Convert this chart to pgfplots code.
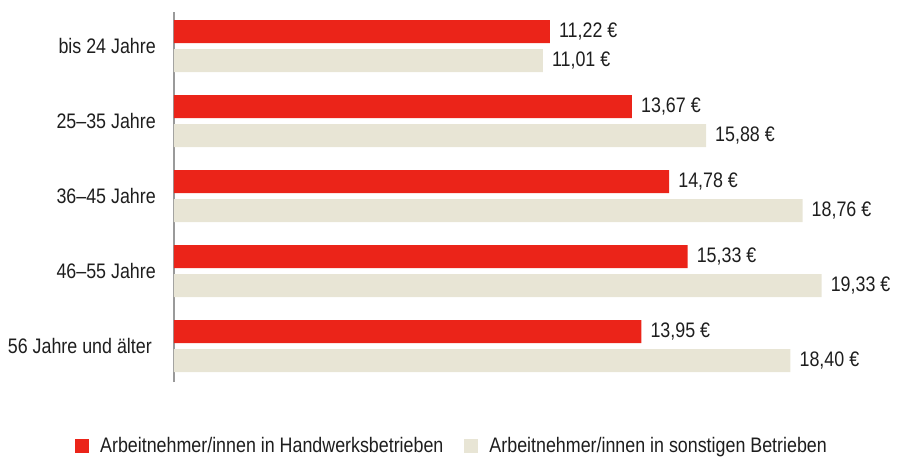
\documentclass[border=0pt]{standalone}
\usepackage{fontspec}
\setmainfont{Liberation Sans}[FakeStretch=0.85]
\usepackage{pgfplots}
\pgfplotsset{compat=1.18}
\definecolor{hwred}{HTML}{EB2419}
\definecolor{otherbeige}{HTML}{E8E5D5}
\definecolor{axisgray}{HTML}{9A9A9A}
\definecolor{txt}{HTML}{1E1E1E}

\begin{document}
\begin{tikzpicture}[font=\fontsize{21}{24}\selectfont]
\useasboundingbox (-174pt,-77pt) rectangle (726pt,382pt);
\begin{axis}[
  at={(0pt,0pt)}, anchor=south west, scale only axis,
  width=726pt, height=370pt,
  xbar, bar width=23pt,
  xmin=0, xmax=21.67,
  ymin=-0.48, ymax=4.4533,
  axis x line=none,
  axis y line*=left,
  y axis line style={axisgray, line width=1.6pt, -},
  ytick={0,1,2,3,4},
  yticklabels={56 Jahre und älter\kern4pt, 46–55 Jahre, 36–45 Jahre, 25–35 Jahre, bis 24 Jahre},
  major tick length=0pt,
  yticklabel style={anchor=east, inner sep=0pt, xshift=-18pt, text=txt},
  /pgf/number format/assume math mode=true,
  nodes near coords={\pgfmathprintnumber[fixed, fixed zerofill, precision=2, use comma]{\pgfplotspointmeta}~€},
  every node near coord/.append style={anchor=west, inner sep=0pt, xshift=9pt, text=txt},
  legend image code/.code={\fill[#1] (0pt,-7pt) rectangle (14pt,7pt);},
  legend style={at={(axis description cs:-0.1364,-0.173)}, anchor=west,
    draw=none, fill=none, inner sep=0pt, legend columns=2,
    nodes={inner sep=0pt, text=txt},
    /tikz/every odd column/.append style={column sep=11pt},
    /tikz/every even column/.append style={column sep=21pt}},
]
\addplot[fill=hwred, draw=none, bar shift=14.5pt]
  coordinates {(11.22,4) (13.67,3) (14.78,2) (15.33,1) (13.95,0)};
\addplot[fill=otherbeige, draw=none, bar shift=-14.5pt]
  coordinates {(11.01,4) (15.88,3) (18.76,2) (19.33,1) (18.40,0)};
\legend{Arbeitnehmer/innen in Handwerksbetrieben, Arbeitnehmer/innen in sonstigen Betrieben}
\end{axis}
\end{tikzpicture}
\end{document}
